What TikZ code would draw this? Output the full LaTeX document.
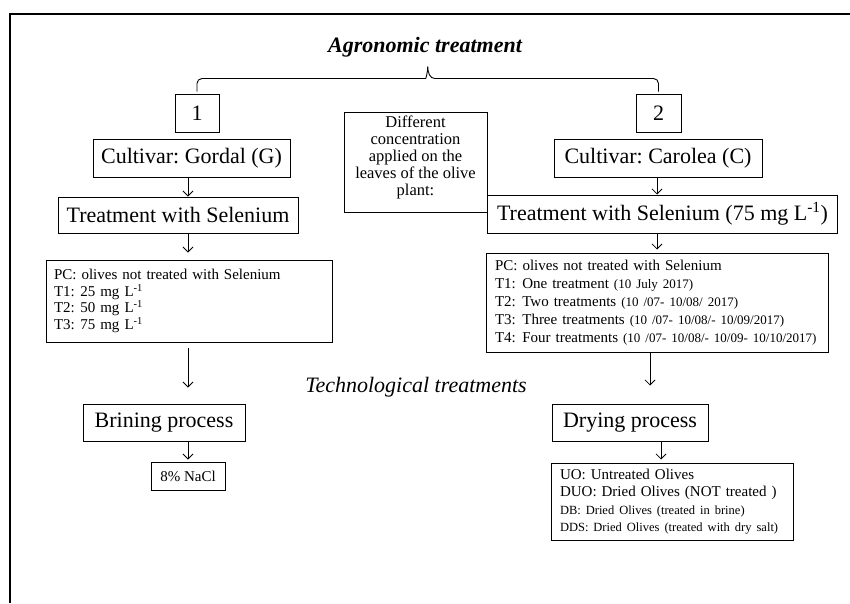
\documentclass[tikz,border=0pt]{standalone}
\usepackage{fontspec}
\setmainfont{Liberation Serif}
\usepackage{tikz}
\usetikzlibrary{arrows.meta, calc}
\frenchspacing
\newcommand{\mgL}{mg L\textsuperscript{-1}}
\newcommand{\datesize}{\fontsize{13}{18}\selectfont}
\newcommand{\notesize}{\fontsize{12.5}{16.5}\selectfont}
\tikzset{
	headbox/.style  ={rectangle, draw=black, line width=1pt, align=center, inner sep=0pt, font=\fontsize{22}{24}\selectfont},
	listbox/.style  ={rectangle, draw=black, line width=1pt, align=left, inner ysep=0pt, font=\fontsize{15}{16.5}\selectfont},
	notebox/.style  ={rectangle, draw=black, line width=1pt, align=center, inner sep=0pt, font=\fontsize{16.5}{17}\selectfont},
	flowarrow/.style={-{Straight Barb[length=5pt, width=10pt]}, line width=0.8pt},
	braceline/.style={line width=0.9pt},
}

\begin{document}
\begin{tikzpicture}[x=1pt, y=-1pt]
	\useasboundingbox (0,0) rectangle (850,603);
	\draw[line width=2pt] (10,603) -- (10,14) -- (850,14);
	\node[font=\fontsize{22}{24}\selectfont\bfseries\itshape] (agro) at (425,47) {Agronomic treatment};
	\node[headbox, minimum width=44pt, minimum height=38pt] (b1) at (197,113) {1};
	\node[headbox, minimum width=45pt, minimum height=38pt] (b2) at (658.5,113) {2};
	\coordinate (tip) at ($(b1.north)!0.5!(b2.north)+(0,-27)$);
	\coordinate (brl) at ($(tip)+(-7,12)$);
	\coordinate (brr) at ($(tip)+(7,12)$);
	\draw[braceline, rounded corners=5pt] ([yshift=2pt]b1.north) |- (brl) [sharp corners] .. controls ($(brl)+(5,0)$) and ($(tip)+(0,6)$) .. (tip) .. controls ($(tip)+(0,6)$) and ($(brr)+(-5,0)$) .. (brr) [rounded corners=5pt] -| ([yshift=2pt]b2.north);
	\node[notebox, minimum width=143pt, minimum height=100pt] (conc) at (415.5,162) {Different\\concentration\\applied on the\\leaves of the olive\\plant:\\[-4pt]\mbox{}};
	% Gordal
	\node[headbox, minimum width=197pt, minimum height=38pt] (cG) at (191.5,158) {Cultivar: Gordal (G)};
	\node[headbox, minimum width=240pt, minimum height=36pt] (tL) at (178,215) {Treatment with Selenium};
	\node[listbox, text width=270pt, inner xsep=8pt, minimum height=82pt] (pL) at (189,301) {PC: olives not treated with Selenium\\T1:\hspace{5.5pt}25 \mgL\\T2:\hspace{5.5pt}50 \mgL\\T3:\hspace{5.5pt}75 \mgL};
	\node[headbox, minimum width=162pt, minimum height=37pt] (bP) at (164,422.5) {Brining process};
	\node[headbox, minimum width=74pt, minimum height=28pt, font=\fontsize{15}{16}\selectfont] (na) at (188,476) {8\% NaCl};
	% Carolea
	\node[headbox, minimum width=208pt, minimum height=38pt] (cC) at (658,158) {Cultivar: Carolea (C)};
	\node[headbox, minimum width=350pt, minimum height=38pt, anchor=west] (tR) at (487,214) {Treatment with Selenium (75 \mgL)};
	\node[listbox, text width=324pt, inner xsep=9pt, minimum height=99pt, font=\fontsize{15}{18}\selectfont] (pR) at (657,302.5) {PC: olives not treated with Selenium\\T1:\hspace{6.5pt}One treatment {\datesize(10 July 2017)}\\T2:\hspace{6.5pt}Two treatments {\datesize(10 /07- 10/08/ 2017)}\\T3:\hspace{6.5pt}Three treatments {\datesize(10 /07- 10/08/- 10/09/2017)}\\T4:\hspace{6.5pt}Four treatments {\datesize(10 /07- 10/08/- 10/09- 10/10/2017)}};
	\node[font=\fontsize{22}{24}\selectfont\itshape] (techno) at (416,387) {Technological treatments};
	\node[headbox, minimum width=156pt, minimum height=37pt] (dP) at (630,422.5) {Drying process};
	\node[listbox, text width=224pt, inner xsep=9pt, minimum height=77pt, font=\fontsize{15}{17.5}\selectfont] (uo) at (672,501.5) {UO: Untreated Olives\\DUO: Dried Olives (NOT treated )\\{\notesize DB: Dried Olives (treated in brine)}\\{\notesize DDS: Dried Olives (treated with dry salt)}};
	\coordinate (axL) at (188,0);
	\coordinate (axR) at (657,0);
	\draw[flowarrow] (axL |- cG.south) -- (axL |- tL.north);
	\draw[flowarrow, shorten >=7pt] (axL |- tL.south) -- (axL |- pL.north);
	\draw[flowarrow, shorten <=5pt, shorten >=16pt] (axL |- pL.south) -- (axL |- bP.north);
	\draw[flowarrow, shorten >=2pt] (axL |- bP.south) -- (axL |- na.north);
	\draw[flowarrow] (axR |- cC.south) -- (axR |- tR.north);
	\draw[flowarrow, shorten >=3pt] (axR |- tR.south) -- (axR |- pR.north);
	\draw[flowarrow, shorten >=18pt] ([xshift=-7pt]axR |- pR.south) -- ([xshift=-7pt]axR |- dP.north);
	\draw[flowarrow, shorten >=3pt] ([xshift=4pt]axR |- dP.south) -- ([xshift=4pt]axR |- uo.north);
\end{tikzpicture}
\end{document}
